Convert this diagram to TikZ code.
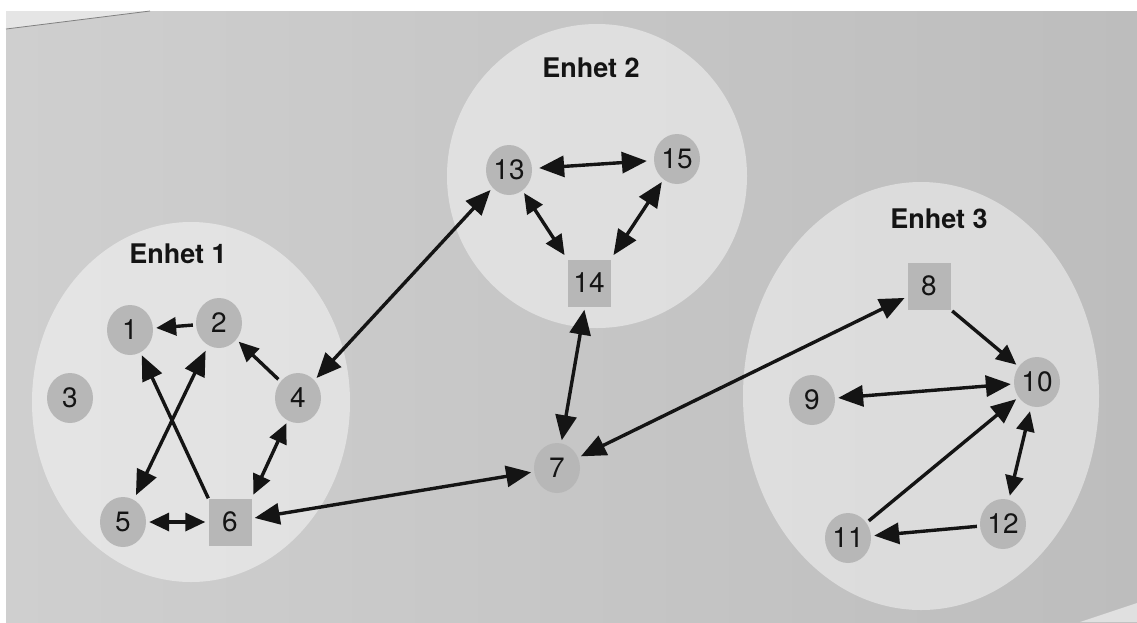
\documentclass[tikz,border=0pt]{standalone}
\usepackage{fontspec}
\setmainfont{TeX Gyre Heros}
\usetikzlibrary{arrows.meta,shapes.geometric}
\definecolor{pagel}{HTML}{CFCFCF}
\definecolor{pager}{HTML}{BDBDBD}
\definecolor{nodegray}{HTML}{B7B7B7}
\definecolor{ink}{HTML}{141414}
\begin{document}
\begin{tikzpicture}[x=1pt,y=-1pt,
  >={Triangle[length=25pt,width=21pt]},
  member/.style={ellipse, fill=nodegray, minimum width=46pt, minimum height=50pt,
    inner sep=0pt, font=\fontsize{28}{30}\selectfont, text=ink},
  chief/.style={rectangle, fill=nodegray, minimum width=43pt, minimum height=47pt,
    inner sep=0pt, font=\fontsize{28}{30}\selectfont, text=ink},
  unit/.style={fill=white, fill opacity=0.45},
  unitlabel/.style={font=\bfseries\fontsize{27}{30}\selectfont, text=ink},
  link/.style={draw=ink, line width=3.4pt, shorten >=3pt, shorten <=3pt, ->},
  both/.style={link, <->},
  short/.style={>={Triangle[length=20pt,width=18pt]}},
]
% page
\useasboundingbox (0,0) rectangle (1137,622);
\fill[white] (0,0) rectangle (1137,622);
\shade[left color=pagel, right color=pager] (6,11) rectangle (1137,622);
\fill[white!90!black] (6,11) -- (150,11) -- (6,29) -- cycle;
\draw[gray, line width=0.8pt] (6,29) -- (150,11);
\fill[white!88!black] (1137,603) .. controls (1110,612) and (1095,617) .. (1080,622) -- (1137,622) -- cycle;

% units
\fill[unit] (191,402) ellipse [x radius=159, y radius=180];
\fill[unit] (597,176) ellipse [x radius=150, y radius=152];
\fill[unit] (921,396) ellipse [x radius=178, y radius=214];

\node[unitlabel] (u1) at (178,254) {Enhet 1};
\node[unitlabel] (u2) at (591,68) {Enhet 2};
\node[unitlabel] (u3) at (939,219) {Enhet 3};

% members
\node[member] (n1) at (130,330) {1};
\node[member] (n2) at (219,323) {2};
\node[member] (n3) at (70,398) {3};
\node[member] (n4) at (298,398) {4};
\node[member] (n5) at (123,522) {5};
\node[chief]  (n6) at (230,522) {6};
\node[member] (n7) at (557,468) {7};
\node[chief]  (n8) at (929,286) {8};
\node[member] (n9) at (812,400) {9};
\node[member] (n10) at (1037,382) {10};
\node[member] (n11) at (848,538) {11};
\node[member] (n12) at (1003,524) {12};
\node[member] (n13) at (509,170) {13};
\node[chief]  (n14) at (589,283) {14};
\node[member] (n15) at (677,159) {15};

% communication lines
\draw[link, short] (n2) -- (n1);
\draw[link, short] (n4) -- (n2);
\draw[link, shorten <=0pt] (n6.north west) -- (n1);
\draw[both, shorten <=6pt, shorten >=5pt] (n2) -- (n5);
\draw[both, short, shorten >=4pt] (n4) -- (n6.north east);
\draw[both, short] (n5) -- (n6);
\draw[both] (n6) -- (n7);
\draw[both] (n4) -- (n13);
\draw[both, shorten <=7pt, shorten >=7pt] (n13) -- (n15);
\draw[both, short, shorten >=5pt] (n13) -- (n14.north west);
\draw[both, shorten >=5pt] (n15) -- (n14.north east);
\draw[both] (n14) -- (n7);
\draw[both] (n7) -- (n8);
\draw[link, short, shorten <=2pt] (n8.south east) -- (n10);
\draw[both] (n9) -- (n10);
\draw[link] (n11) -- (n10);
\draw[both, short, shorten <=5pt, shorten >=4pt] (n10) -- (n12);
\draw[link] (n12) -- (n11);
\end{tikzpicture}
\end{document}
